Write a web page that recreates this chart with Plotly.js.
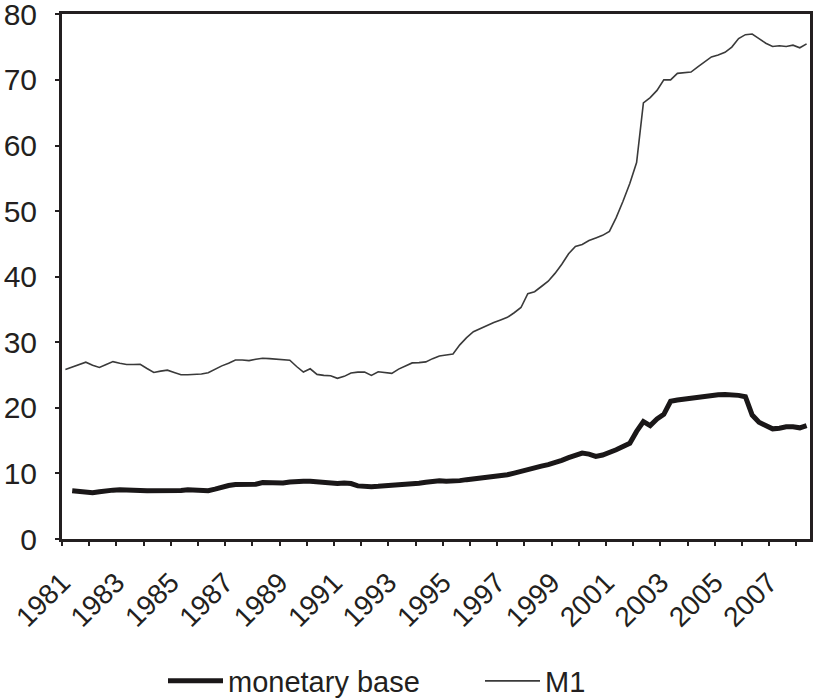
<!DOCTYPE html>
<html>
<head>
<meta charset="utf-8">
<script src="https://cdn.plot.ly/plotly-3.0.1.min.js"></script>
<style>
  html, body { margin: 0; padding: 0; background: #ffffff; }
  #chart { width: 815px; height: 698px; }
</style>
</head>
<body>
<div id="chart"></div>
<script>
// Quarterly series, 1981 Q1 to 2008 Q2 (110 quarters)
const firstYear = 1981;
const quarterCount = 110;

const m1 = [
  25.85, 26.2, 26.6, 26.96, 26.5, 26.15, 26.6, 27.05, 26.8, 26.6,
  26.6, 26.65, 26.0, 25.4, 25.6, 25.75, 25.4, 25.05, 25.05, 25.05,
  25.15, 25.35, 25.9, 26.4, 26.8, 27.3, 27.3, 27.2, 27.4, 27.55,
  27.5, 27.45, 27.4, 27.25, 26.3, 25.45, 25.95, 25.1, 24.95, 24.9,
  24.5, 24.8, 25.3, 25.45, 25.45, 24.95, 25.5, 25.4, 25.25, 25.9,
  26.4, 26.85, 26.9, 27.0, 27.5, 27.9, 28.05, 28.2, 29.6, 30.7,
  31.6, 32.1, 32.6, 33.0, 33.4, 33.8, 34.5, 35.3, 37.4, 37.7,
  38.5, 39.3, 40.5, 41.9, 43.5, 44.6, 44.9, 45.5, 45.9, 46.3,
  46.9, 49.0, 51.5, 54.2, 57.4, 66.5, 67.3, 68.4, 70.0, 70.0,
  71.0, 71.1, 71.2, 72.0, 72.8, 73.5, 73.8, 74.2, 75.0, 76.3,
  76.9, 77.0, 76.3, 75.6, 75.1, 75.2, 75.1, 75.3, 74.9, 75.5
];

const monetaryBase = [
  null, 7.37, 7.25, 7.1, 7.05, 7.2, 7.37, 7.45, 7.5, 7.53,
  7.45, 7.4, 7.37, 7.35, 7.3, 7.28, 7.3, 7.4, 7.5, 7.5,
  7.4, 7.37, 7.6, 7.9, 8.15, 8.3, 8.3, 8.2, 8.35, 8.6,
  8.55, 8.45, 8.55, 8.7, 8.8, 8.82, 8.8, 8.7, 8.55, 8.42,
  8.45, 8.55, 8.45, 8.1, 7.95, 7.98, 8.03, 8.08, 8.15, 8.2,
  8.3, 8.4, 8.5, 8.65, 8.85, 8.87, 8.82, 8.8, 8.9, 9.05,
  9.15, 9.28, 9.43, 9.57, 9.7, 9.8, 10.05, 10.35, 10.65, 10.85,
  11.1, 11.35, 11.6, 12.0, 12.4, 12.8, 13.1, 12.95, 12.6, 12.8,
  13.1, 13.6, 14.1, 14.6, 16.4, 17.9, 17.3, 18.3, 19.0, 21.0,
  21.2, 21.35, 21.5, 21.65, 21.8, 21.9, 22.0, 22.03, 22.0, 21.9,
  21.7, 18.9, 17.8, 17.2, 16.8, 16.9, 17.1, 17.1, 16.95, 17.3
];

const tickYears = [];
for (let y = 1981; y <= 2008; y++) tickYears.push(y);
const tickLabels = tickYears.map(y => (y % 2 === 1 ? String(y) : ''));
const yTicks = [0, 10, 20, 30, 40, 50, 60, 70, 80];

// x position = centre of each quarter
const xq = [];
for (let i = 0; i < quarterCount; i++) xq.push(firstYear + (i + 0.5) / 4);

const ink = '#231f20';
const font = 'Liberation Sans, Arial, sans-serif';

const traces = [
  {
    x: xq, y: monetaryBase, name: 'monetary base', type: 'scatter', mode: 'lines',
    line: { color: '#1a1718', width: 5 }
  },
  {
    x: xq, y: m1, name: 'M1', type: 'scatter', mode: 'lines',
    line: { color: '#3a3a3a', width: 1.6 }
  }
];

const layout = {
  width: 815, height: 698,
  margin: { l: 62, r: 5, t: 14, b: 159, autoexpand: false },
  paper_bgcolor: '#ffffff', plot_bgcolor: '#ffffff',
  showlegend: true,
  legend: {
    orientation: 'h', xref: 'container', yref: 'container',
    x: 163 / 815, xanchor: 'left', y: 17 / 698, yanchor: 'middle',
    font: { family: font, size: 29, color: ink },
    itemwidth: 55, entrywidth: 247, entrywidthmode: 'pixels',
    bgcolor: 'rgba(0,0,0,0)'
  },
  xaxis: {
    range: [1981, 2008.5], tickmode: 'array', tickvals: tickYears, ticktext: tickLabels,
    tickangle: -45, ticks: 'outside', ticklen: 4, tickwidth: 2, tickcolor: ink,
    showline: true, linecolor: ink, linewidth: 3, mirror: true,
    showgrid: false, zeroline: false, ticklabelstandoff: 9, ticklabeloverflow: 'allow',
    tickfont: { family: font, size: 28, color: ink }
  },
  yaxis: {
    range: [0, 80.05], tickmode: 'array', tickvals: yTicks,
    ticks: 'outside', ticklen: 4, tickwidth: 2, tickcolor: ink,
    showline: true, linecolor: ink, linewidth: 3, mirror: true,
    showgrid: false, zeroline: false, ticklabelstandoff: 12, ticklabeloverflow: 'allow',
    tickfont: { family: font, size: 30, color: ink }
  }
};

Plotly.newPlot('chart', traces, layout, { staticPlot: true, displayModeBar: false });
</script>
</body>
</html>
